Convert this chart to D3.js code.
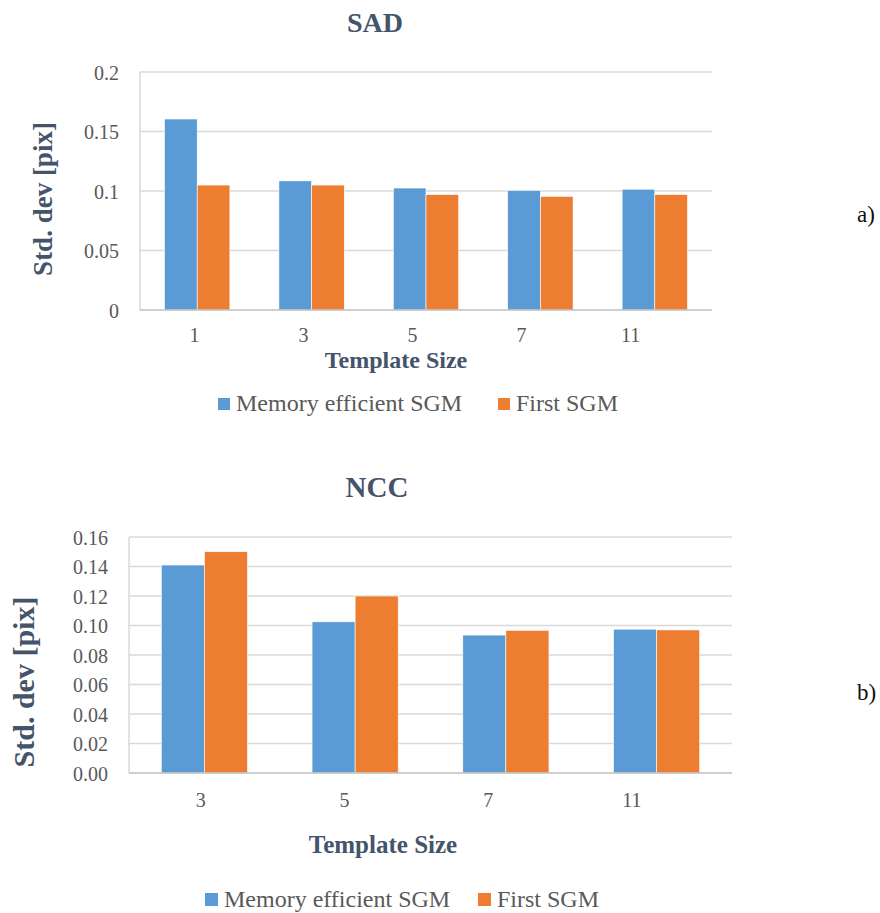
<!DOCTYPE html>
<html>
<head>
<meta charset="utf-8">
<script src="https://cdn.jsdelivr.net/npm/d3@7"></script>
<style>
  body { margin: 0; background: #fff; }
  svg, svg text { font-family: "Liberation Serif", "DejaVu Serif", serif; }
</style>
</head>
<body>
<svg id="fig" width="880" height="913"></svg>
<script>
// Series names shared by both panels
const seriesNames = ["Memory efficient SGM", "First SGM"];
const seriesColors = ["#5B9BD5", "#ED7D31"];

// Panel a) SAD
const sadCategories = ["1", "3", "5", "7", "11"];
const sadMemoryEfficient = [0.1605, 0.1085, 0.1025, 0.1005, 0.1015];
const sadFirst = [0.105, 0.105, 0.097, 0.0955, 0.097];
const sadTicks = [0, 0.05, 0.1, 0.15, 0.2];

// Panel b) NCC
const nccCategories = ["3", "5", "7", "11"];
const nccMemoryEfficient = [0.141, 0.1025, 0.0935, 0.0975];
const nccFirst = [0.150, 0.120, 0.0967, 0.097];
const nccTicks = [0, 0.02, 0.04, 0.06, 0.08, 0.10, 0.12, 0.14, 0.16];

const svg = d3.select("#fig");
const serif = "'Liberation Serif', 'DejaVu Serif', serif";

function drawPanel(p) {
  const g = svg.append("g");
  const x = d3.scaleBand().domain(p.categories).range([p.left, p.right]).paddingInner(0).paddingOuter(0);
  // Excel-style gap width of 75% between groups
  const groupW = x.bandwidth() / 1.75;
  const xs = d3.scaleBand().domain(seriesNames).range([0, groupW]);
  const y = d3.scaleLinear().domain([0, p.ticks[p.ticks.length - 1]]).range([p.bottom, p.top]);

  // horizontal gridlines
  g.append("g").selectAll("line").data(p.ticks.filter(t => t > 0)).join("line")
    .attr("x1", p.left).attr("x2", p.right)
    .attr("y1", d => y(d)).attr("y2", d => y(d))
    .attr("stroke", "#D9D9D9").attr("stroke-width", 1.5);
  // left edge of plot area
  g.append("line").attr("x1", p.left).attr("x2", p.left).attr("y1", p.top).attr("y2", p.bottom)
    .attr("stroke", "#D9D9D9").attr("stroke-width", 1.5);

  // bars
  const rows = p.categories.map((c, i) => ({ c, vals: [p.a[i], p.b[i]] }));
  const grp = g.append("g").selectAll("g").data(rows).join("g")
    .attr("transform", d => `translate(${x(d.c) + (x.bandwidth() - groupW) / 2},0)`);
  grp.selectAll("rect").data(d => d.vals.map((v, k) => ({ v, k }))).join("rect")
    .attr("x", d => xs(seriesNames[d.k]))
    .attr("width", xs.bandwidth())
    .attr("y", d => y(d.v))
    .attr("height", d => p.bottom - y(d.v))
    .attr("fill", d => seriesColors[d.k])
    .attr("stroke", "#fff").attr("stroke-width", 0.6);

  // category axis baseline
  g.append("line").attr("x1", p.left).attr("x2", p.right).attr("y1", p.bottom).attr("y2", p.bottom)
    .attr("stroke", "#BFBFBF").attr("stroke-width", 1.5);

  // y axis labels
  const yAxis = g.append("g").attr("transform", `translate(${p.left},0)`)
    .call(d3.axisLeft(y).tickValues(p.ticks).tickFormat(p.fmt).tickSize(0).tickPadding(21));
  yAxis.attr("font-family", null);
  yAxis.select(".domain").remove();
  yAxis.selectAll("text").style("font-family", serif).attr("font-size", p.tickFont)
    .attr("fill", "#595959").attr("dy", "0.35em");

  // x category labels
  const xl = d3.scaleBand().domain(p.categories).range([p.left, p.left + (p.right - p.left) * 0.953]);
  const xAxis = g.append("g").attr("transform", `translate(0,${p.bottom})`)
    .call(d3.axisBottom(xl).tickSize(0));
  xAxis.attr("font-family", null);
  xAxis.select(".domain").remove();
  xAxis.selectAll("text").style("font-family", serif).attr("font-size", p.tickFont)
    .attr("fill", "#595959").attr("y", p.catBase).attr("dy", 0);

  // titles
  g.append("text").attr("x", p.titleX).attr("y", p.titleY).attr("text-anchor", "middle")
    .attr("font-weight", "bold").attr("font-size", p.titleFont).attr("fill", "#44546A").text(p.title);
  g.append("text").attr("x", p.xTitleX).attr("y", p.xTitleY).attr("text-anchor", "middle")
    .attr("font-weight", "bold").attr("font-size", p.xTitleFont).attr("fill", "#44546A").text("Template Size");
  g.append("text").attr("transform", `translate(${p.yTitleX},${p.yTitleY}) rotate(-90)`)
    .attr("text-anchor", "middle").attr("font-weight", "bold").attr("font-size", p.yTitleFont)
    .attr("fill", "#44546A").text("Std. dev [pix]");

  // legend
  const lg = g.append("g");
  seriesNames.forEach((n, k) => {
    lg.append("rect").attr("x", p.legX[k]).attr("y", p.legY - p.legSq).attr("width", p.legSq).attr("height", p.legSq)
      .attr("fill", seriesColors[k]);
    lg.append("text").attr("x", p.legX[k] + p.legSq + 6).attr("y", p.legY + 1)
      .attr("font-size", 24).attr("fill", "#595959").text(n);
  });

  // panel tag
  g.append("text").attr("x", 857).attr("y", p.tagY).attr("font-size", 23).attr("fill", "#111").text(p.tag);
}

drawPanel({
  categories: sadCategories, a: sadMemoryEfficient, b: sadFirst, ticks: sadTicks,
  fmt: d3.format(""), left: 140, right: 712, top: 72, bottom: 310,
  tickFont: 20, catBase: 32, title: "SAD", titleX: 375, titleY: 32, titleFont: 28,
  xTitleX: 396, xTitleY: 368, xTitleFont: 24, yTitleX: 52, yTitleY: 199, yTitleFont: 27,
  legX: [218, 498], legY: 410, legSq: 12, tag: "a)", tagY: 222
});

drawPanel({
  categories: nccCategories, a: nccMemoryEfficient, b: nccFirst, ticks: nccTicks,
  fmt: d3.format(".2f"), left: 129, right: 732, top: 537, bottom: 773,
  tickFont: 20, catBase: 34, title: "NCC", titleX: 377, titleY: 497, titleFont: 29,
  xTitleX: 383, xTitleY: 853, xTitleFont: 25, yTitleX: 34, yTitleY: 682, yTitleFont: 30,
  legX: [205, 478], legY: 906, legSq: 13, tag: "b)", tagY: 700
});
</script>
</body>
</html>
